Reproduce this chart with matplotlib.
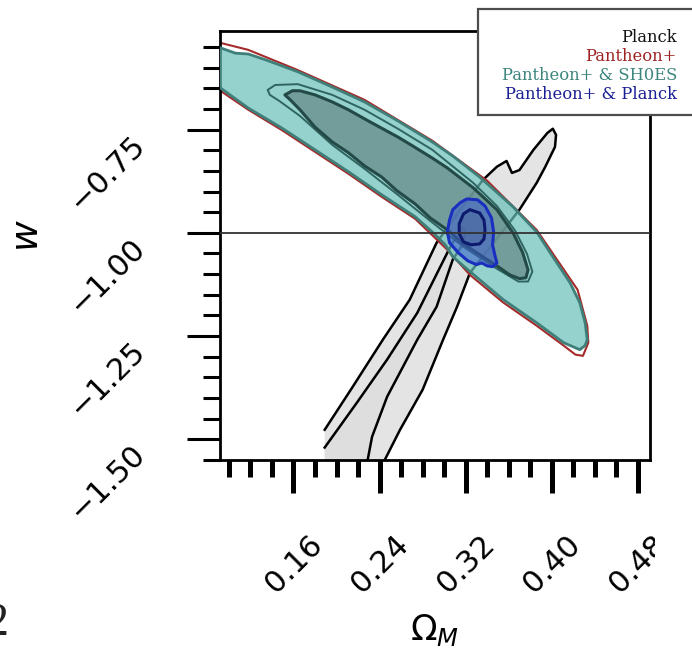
import matplotlib
matplotlib.use("Agg")
import matplotlib.pyplot as plt
from matplotlib.patches import Rectangle
from matplotlib.ticker import FixedLocator, MultipleLocator
from matplotlib.transforms import Bbox, TransformedBbox

# ---------------- data (Omega_M, w) ----------------
# Pantheon+ (red) 2-sigma outline
pan2_om = [0.078, 0.092, 0.118, 0.164, 0.226, 0.289, 0.340, 0.386, 0.424, 0.433, 0.434, 0.429,
           0.422, 0.411, 0.386, 0.355, 0.324, 0.301, 0.273, 0.242, 0.211, 0.180, 0.149, 0.118, 0.092, 0.078]
pan2_w = [-0.533, -0.540, -0.557, -0.606, -0.678, -0.777, -0.874, -0.993, -1.138, -1.225, -1.266, -1.298,
          -1.295, -1.273, -1.225, -1.169, -1.102, -1.036, -0.966, -0.913, -0.857, -0.804, -0.751, -0.702, -0.656, -0.637]

# Pantheon+ & SH0ES 2-sigma
shoes2_om = [0.078, 0.092, 0.106, 0.118, 0.134, 0.164, 0.196, 0.226, 0.257, 0.289, 0.308, 0.333, 0.364,
             0.386, 0.401, 0.417, 0.426, 0.431, 0.433, 0.431, 0.426, 0.411, 0.386, 0.355, 0.324, 0.308,
             0.301, 0.289, 0.273, 0.242, 0.211, 0.180, 0.149, 0.118, 0.092, 0.078]
shoes2_w = [-0.545, -0.552, -0.565, -0.567, -0.581, -0.610, -0.647, -0.683, -0.729, -0.780, -0.814, -0.865,
            -0.937, -0.998, -1.058, -1.121, -1.169, -1.218, -1.259, -1.273, -1.283, -1.266, -1.218, -1.162,
            -1.094, -1.058, -1.029, -0.998, -0.961, -0.908, -0.852, -0.799, -0.746, -0.698, -0.649, -0.630]

# Pantheon+ & SH0ES 1-sigma (filled)
shoes1_om = [0.152, 0.159, 0.166, 0.180, 0.196, 0.211, 0.226, 0.240, 0.257, 0.271, 0.289, 0.303, 0.327,
             0.349, 0.364, 0.373, 0.378, 0.376, 0.370, 0.361, 0.349, 0.333, 0.318, 0.303, 0.287, 0.273,
             0.256, 0.242, 0.226, 0.211, 0.196, 0.180, 0.166, 0.157]
shoes1_w = [-0.666, -0.656, -0.656, -0.666, -0.683, -0.702, -0.724, -0.744, -0.768, -0.790, -0.819, -0.843,
            -0.891, -0.944, -1.000, -1.048, -1.090, -1.109, -1.111, -1.102, -1.080, -1.053, -1.027, -0.993,
            -0.964, -0.930, -0.898, -0.865, -0.838, -0.806, -0.780, -0.744, -0.702, -0.678]

# Pantheon+ 1-sigma outline (seen through the fill)
pan1_om = [0.136, 0.143, 0.164, 0.196, 0.226, 0.257, 0.289, 0.327, 0.349, 0.366, 0.377, 0.382, 0.378,
           0.369, 0.349, 0.318, 0.287, 0.256, 0.226, 0.196, 0.166, 0.147, 0.138]
pan1_w = [-0.654, -0.642, -0.640, -0.666, -0.702, -0.748, -0.799, -0.879, -0.935, -0.995, -1.051, -1.094, -1.118,
          -1.118, -1.087, -1.034, -0.971, -0.906, -0.845, -0.787, -0.717, -0.681, -0.666]

# Planck 2-sigma (open at the lower edge of the chain)
planck2_om = [0.189, 0.215, 0.243, 0.268, 0.293, 0.315, 0.336, 0.349, 0.358, 0.363, 0.370, 0.383, 0.396,
              0.401, 0.404, 0.403, 0.394, 0.386, 0.370, 0.324, 0.312, 0.299, 0.280, 0.259, 0.245, 0.242]
planck2_w = [-1.477, -1.373, -1.259, -1.162, -1.024, -0.944, -0.872, -0.840, -0.826, -0.855, -0.848, -0.799,
             -0.758, -0.748, -0.763, -0.792, -0.840, -0.879, -0.944, -1.097, -1.179, -1.259, -1.380, -1.477,
             -1.549, -1.573]

# Planck 1-sigma
planck1_om = [0.189, 0.219, 0.247, 0.275, 0.303, 0.311, 0.317, 0.320, 0.317, 0.308, 0.293, 0.275, 0.247,
              0.233, 0.229, 0.228]
planck1_w = [-1.520, -1.411, -1.307, -1.194, -1.048, -1.009, -0.988, -0.998, -1.029, -1.065, -1.179, -1.259,
             -1.397, -1.494, -1.549, -1.573]

# Pantheon+ & Planck 2-sigma and 1-sigma
pp2_om = [0.321, 0.331, 0.338, 0.344, 0.346, 0.345, 0.347, 0.349, 0.345, 0.340, 0.335, 0.330, 0.322,
          0.313, 0.305, 0.303, 0.305, 0.308, 0.315]
pp2_w = [-0.918, -0.920, -0.935, -0.964, -0.998, -1.029, -1.053, -1.073, -1.082, -1.080, -1.073, -1.077,
         -1.068, -1.048, -1.024, -0.998, -0.969, -0.944, -0.927]
pp1_om = [0.324, 0.333, 0.337, 0.338, 0.337, 0.333, 0.325, 0.318, 0.314, 0.314, 0.318]
pp1_w = [-0.944, -0.952, -0.969, -0.993, -1.015, -1.027, -1.029, -1.022, -1.002, -0.978, -0.954]

w_ref = -1.0

x_major = [0.16, 0.24, 0.32, 0.40, 0.48]
x_labels = ["0.16", "0.24", "0.32", "0.40", "0.48"]
y_major = [-1.50, -1.25, -1.00, -0.75]
y_labels = ["\u22121.50", "\u22121.25", "\u22121.00", "\u22120.75"]

legend_labels = ["Planck", "Pantheon+", "Pantheon+ & SH0ES", "Pantheon+ & Planck"]
legend_colors = ["#111111", "#9e2424", "#3c857d", "#1a1f94"]

# ---------------- figure ----------------
W, H = 692, 652
fig = plt.figure(figsize=(W / 100, H / 100), dpi=100)
ax = fig.add_axes([220 / W, 1 - 460 / H, 430 / W, 429 / H])
ax.set_xlim(0.0917, 0.4913)
ax.set_ylim(-1.5502, -0.5113)

# Planck
ax.fill(planck2_om + [planck2_om[0]], planck2_w + [planck2_w[-1]], facecolor="#e4e4e4",
        edgecolor="none", zorder=1)
ax.fill(planck1_om + [planck1_om[0]], planck1_w + [planck1_w[-1]], facecolor="#dedede",
        edgecolor="none", zorder=1.1)
ax.plot(planck2_om, planck2_w, color="black", lw=1.8, zorder=1.5, solid_joinstyle="round")
ax.plot(planck1_om, planck1_w, color="black", lw=1.8, zorder=1.5, solid_joinstyle="round")

# Pantheon+
ax.fill(pan2_om, pan2_w, facecolor="none", edgecolor="#a52a2a", lw=1.5, zorder=2,
        joinstyle="round")

# Pantheon+ & SH0ES
ax.fill(shoes2_om, shoes2_w, facecolor=(0.406, 0.748, 0.725), alpha=0.7, edgecolor="none", zorder=3)
ax.fill(shoes2_om, shoes2_w, facecolor="none", edgecolor="#3f7f79", lw=2.0, zorder=3.2,
        joinstyle="round")
ax.fill(pan1_om, pan1_w, facecolor="none", edgecolor="#2f6461", lw=1.4, zorder=3.3,
        joinstyle="round")
ax.fill(shoes1_om, shoes1_w, facecolor="#6a908e", alpha=0.8, edgecolor="none", zorder=3.4)
ax.fill(shoes1_om, shoes1_w, facecolor="none", edgecolor="#234a47", lw=2.2, zorder=3.5,
        joinstyle="round")

# Pantheon+ & Planck
ax.fill(pp2_om, pp2_w, facecolor="#3a5ad4", alpha=0.5, edgecolor="none", zorder=4)
ax.fill(pp2_om, pp2_w, facecolor="none", edgecolor="#1a2fc0", lw=2.2, zorder=4.2, joinstyle="round")
ax.fill(pp1_om, pp1_w, facecolor="#3a4478", alpha=0.2, edgecolor="none", zorder=4.3)
ax.fill(pp1_om, pp1_w, facecolor="none", edgecolor="#0d1a6e", lw=2.2, zorder=4.5, joinstyle="round")

ax.axhline(w_ref, color="#333333", lw=1.3, zorder=6)

# axes styling
for s in ax.spines.values():
    s.set_linewidth(2.0)
ax.xaxis.set_major_locator(FixedLocator(x_major))
ax.xaxis.set_minor_locator(MultipleLocator(0.02))
ax.yaxis.set_major_locator(FixedLocator(y_major))
ax.yaxis.set_minor_locator(MultipleLocator(0.05))
ax.set_xticklabels(x_labels)
ax.set_yticklabels(y_labels)
ax.tick_params(axis="x", which="major", direction="out", length=24, width=3.6, pad=26,
               labelsize=22, labelrotation=45)
ax.tick_params(axis="x", which="minor", direction="out", length=12, width=3.6)
ax.tick_params(axis="y", which="major", direction="out", length=24, width=2.2, pad=26,
               labelsize=22, labelrotation=45)
ax.tick_params(axis="y", which="minor", direction="out", length=12, width=2.2)
for lbl in ax.get_yticklabels():
    lbl.set_va("top")
last = ax.get_xticklabels()[-1]
last.set_clip_on(True)
last.set_clip_box(TransformedBbox(Bbox([[0, 0], [655 / W, 1]]), fig.transFigure))

ax.set_xlabel(r"$\Omega_M$", fontsize=25)
ax.xaxis.set_label_coords(0.5, -0.355)
ax.set_ylabel(r"$w$", fontsize=27)
ax.yaxis.set_label_coords(-0.405, 0.524)

# legend box
fig.add_artist(Rectangle((478 / W, 1 - 115 / H), 400 / W, 106 / H, transform=fig.transFigure,
                         facecolor="white", edgecolor="#4d4d4d", lw=1.6, zorder=10, clip_on=False))
for i, (lab, col) in enumerate(zip(legend_labels, legend_colors)):
    fig.text(677 / W, 1 - (42 + 19 * i) / H, lab, ha="right", va="baseline", color=col,
             family="DejaVu Serif", fontsize=11.8, zorder=11)

# stray page number fragment at lower-left corner
fig.text(9 / W, 1 - 635 / H, "2", ha="right", va="baseline", family="Liberation Serif",
         fontsize=33, color="#222222")

fig.savefig("out.png", dpi=100)
